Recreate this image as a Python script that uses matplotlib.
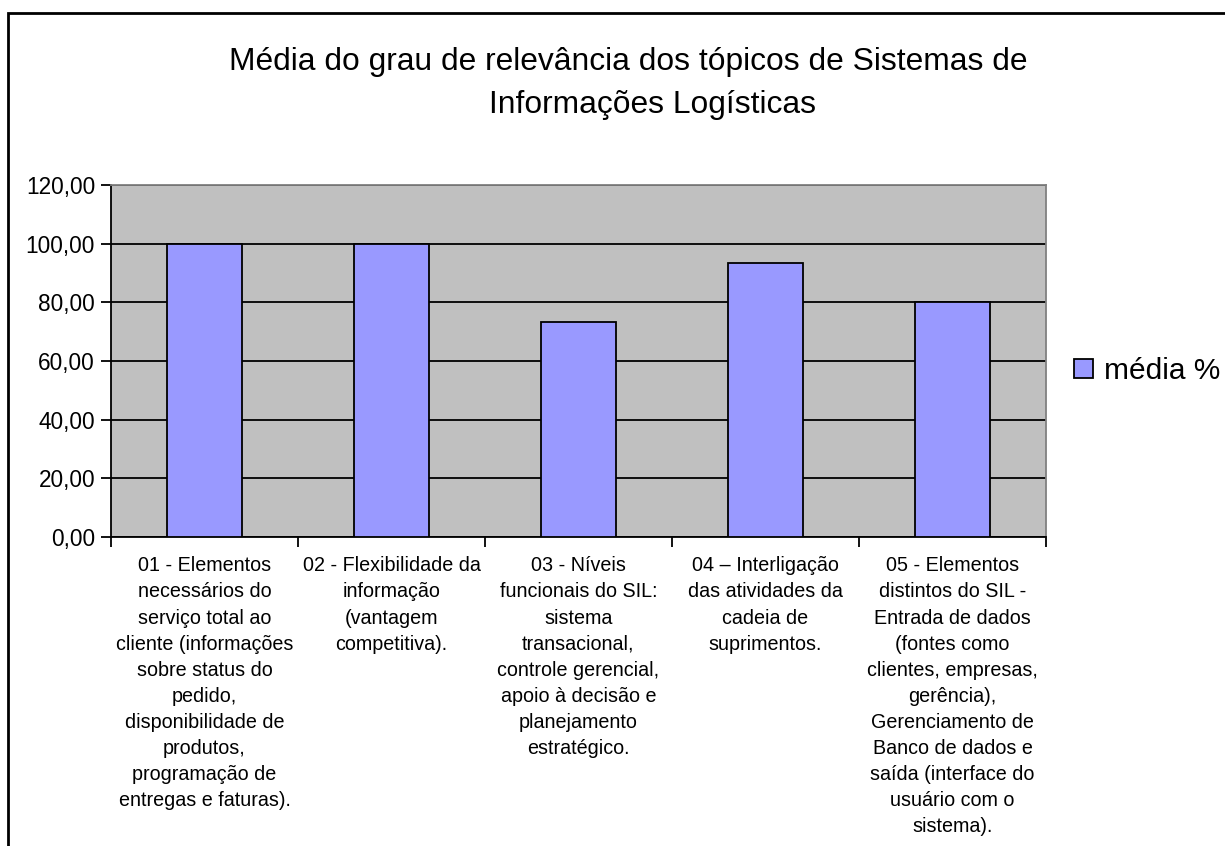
import numpy as np
import matplotlib
matplotlib.use("Agg")
import matplotlib.pyplot as plt
from matplotlib.patches import Rectangle

plt.rcParams['font.family'] = ['Liberation Sans', 'DejaVu Sans']

# dados do grafico
topicos = [
    "01 - Elementos\nnecessários do\nserviço total ao\ncliente (informações\nsobre status do\npedido,\ndisponibilidade de\nprodutos,\nprogramação de\nentregas e faturas).",
    "02 - Flexibilidade da\ninformação\n(vantagem\ncompetitiva).",
    "03 - Níveis\nfuncionais do SIL:\nsistema\ntransacional,\ncontrole gerencial,\napoio à decisão e\nplanejamento\nestratégico.",
    "04 – Interligação\ndas atividades da\ncadeia de\nsuprimentos.",
    "05 - Elementos\ndistintos do SIL -\nEntrada de dados\n(fontes como\nclientes, empresas,\ngerência),\nGerenciamento de\nBanco de dados e\nsaída (interface do\nusuário com o\nsistema).",
]
media = [100.00, 100.00, 73.33, 93.33, 80.00]
yticks = [0, 20, 40, 60, 80, 100, 120]
serie = "média %"
titulo1 = "Média do grau de relevância dos tópicos de Sistemas de"
titulo2 = "Informações Logísticas"

W, H = 1225, 846
fig = plt.figure(figsize=(W / 100, H / 100), dpi=100)
fig.patch.set_facecolor("white")

# area do grafico (em pixels da figura)
left, right, top, bottom = 111, 1046, 185, 537
ax = fig.add_axes([left / W, 1 - bottom / H, (right - left) / W, (bottom - top) / H])
ax.set_facecolor("#C0C0C0")

x = np.arange(len(media))
barras = ax.bar(x, media, width=0.4, color="#9999FF", edgecolor="black",
                linewidth=1.3, zorder=3, label=serie)

ax.set_xlim(-0.5, len(media) - 0.5)
ax.set_ylim(0, 120)
ax.set_yticks(yticks)
ax.set_yticklabels(["%d,00" % v for v in yticks], fontsize=16.3)
ax.yaxis.grid(True, color="black", linewidth=1.3, zorder=1)
ax.set_axisbelow(True)

ax.set_xticks(x)
ax.set_xticklabels(topicos, fontsize=14.2, linespacing=1.47, va="top")
ax.set_xticks(np.arange(-0.5, len(media), 1), minor=True)
ax.tick_params(axis="x", which="major", length=0, pad=14)
ax.tick_params(axis="x", which="minor", length=7, width=1.3, direction="out")
ax.tick_params(axis="y", length=7, width=1.3, direction="out", pad=4.5)

for lado in ["left", "bottom"]:
    ax.spines[lado].set_color("black")
    ax.spines[lado].set_linewidth(1.3)
for lado in ["right", "top"]:
    ax.spines[lado].set_color("#808080")
    ax.spines[lado].set_linewidth(1.3)

# titulo em duas linhas
fig.text(628 / W, 1 - 62 / H, titulo1, ha="center", va="center", fontsize=22.9)
fig.text(653 / W, 1 - 105 / H, titulo2, ha="center", va="center", fontsize=22.9)

# legenda
fig.legend(handles=[barras], labels=[serie], loc="center left",
           bbox_to_anchor=(1074 / W, 1 - 371 / H), frameon=False,
           fontsize=21.5, handlelength=0.65, handleheight=0.65, handletextpad=0.35,
           borderpad=0, borderaxespad=0)

# borda da figura
borda = Rectangle((7.5 / W, -0.1), 1.2, (H - 13) / H + 0.1, transform=fig.transFigure,
                  fill=False, edgecolor="black", linewidth=2, clip_on=False)
fig.add_artist(borda)

fig.savefig("out.png", dpi=100)
